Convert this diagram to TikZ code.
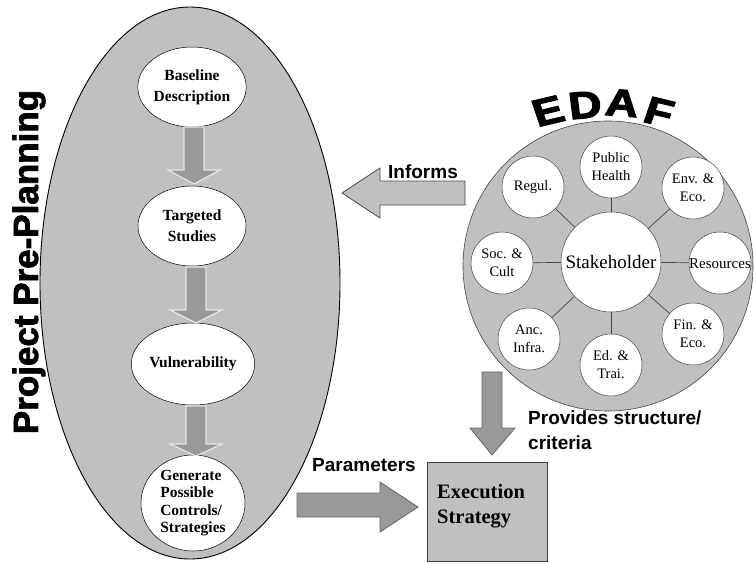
\documentclass[tikz,border=0pt]{standalone}
\usepackage{fontspec}
\setmainfont{Liberation Serif}
\newfontfamily\sansfont{Liberation Sans}
\newfontfamily\blackfont{Liberation Sans}[BoldFeatures={FakeBold=2.2}]
\newfontfamily\heavierfont{Liberation Sans}[BoldFeatures={FakeBold=3}]
\usetikzlibrary{shapes.geometric}
\definecolor{bggray}{HTML}{C0C0C0}
\definecolor{arrgray}{HTML}{999999}
\definecolor{linegray}{HTML}{444444}
\tikzset{
  bigoval/.style={draw=black, line width=0.9pt, fill=bggray, ellipse, inner sep=0pt},
  stepoval/.style={draw=black, line width=0.5pt, fill=white, ellipse, inner sep=0pt, align=center,
    font=\fontsize{15.5}{21}\selectfont\bfseries},
  smallcirc/.style={draw=linegray, line width=0.5pt, fill=white, circle, inner sep=0pt, minimum size=62pt,
    align=center, font=\fontsize{14.5}{18}\selectfont},
  flowarr/.style={fill=arrgray, draw=white!90!black, line width=1.2pt, line join=miter},
  bigarr/.style={fill=arrgray, draw=black!60, line width=0.8pt},
  lightarr/.style={fill=bggray, draw=black!70, line width=0.8pt},
  spoke/.style={draw=linegray, line width=0.7pt},
  sanslabel/.style={font=\sansfont\fontsize{19}{25}\selectfont\bfseries, inner sep=0pt},
  edafletter/.style={font=\heavierfont\fontsize{38}{38}\selectfont\bfseries, inner sep=0pt, xscale=1.2}
}
\begin{document}
\begin{tikzpicture}[x=1pt,y=-1pt]
\useasboundingbox (0,0) rectangle (754,563);
\fill[white] (0,0) rectangle (754,563);

% ---------- Project Pre-Planning ----------
\node[bigoval, minimum width=300pt, minimum height=552pt] (pp) at (190,283) {};
\node[rotate=90, inner sep=0pt, font=\blackfont\fontsize{35}{35}\selectfont\bfseries] (pptitle) at (29,262) {Project Pre-Planning};

\node[stepoval, minimum width=100pt, minimum height=80pt] (base) at (192,87) {Baseline\\Description};
\node[stepoval, minimum width=108pt, minimum height=80pt] (targ) at (192,226) {Targeted\\Studies};
\node[stepoval, minimum width=112pt, minimum height=82pt] (vuln) at (193,364) {Vulnerability};
\node[stepoval, minimum width=104pt, minimum height=96pt, font=\fontsize{15.5}{17.5}\selectfont\bfseries, align=left] (gen) at (193,503) {Generate\\Possible\\Controls/\\Strategies};

\draw[flowarr] (184,127) -- (204,127) -- (204,170) -- (220,170) -- (194,184) -- (168,170) -- (184,170) -- cycle;
\draw[flowarr] (186,267) -- (206,267) -- (206,310) -- (222,310) -- (196,323) -- (170,310) -- (186,310) -- cycle;
\draw[flowarr] (186,406) -- (206,406) -- (206,444) -- (222,444) -- (196,456) -- (170,444) -- (186,444) -- cycle;

% ---------- EDAF ----------
\node[bigoval, circle, minimum size=290pt, line width=0.6pt, draw=linegray] (edaf) at (608,266) {};
\node[edafletter, rotate=16] (le) at (548,111) {E};
\node[edafletter, rotate=6] (ld) at (585,105) {D};
\node[edafletter, rotate=-5] (la) at (622,103) {A};
\node[edafletter, rotate=-16] (lf) at (659,112) {F};

\node[circle, draw=linegray, line width=0.5pt, fill=white, minimum size=100pt, inner sep=0pt,
  font=\fontsize{19}{20}\selectfont] (st) at (611,262) {Stakeholder};

\node[smallcirc] (ph) at (611,167) {Public\\Health};
\node[smallcirc] (rg) at (533,187) {Regul.};
\node[smallcirc] (env) at (693,188) {Env. \&\\Eco.};
\node[smallcirc] (soc) at (502,263) {Soc. \&\\Cult};
\node[smallcirc] (res) at (720,263) {};
\node[font=\fontsize{15}{18}\selectfont, inner sep=0pt] (restxt) at (720,264) {Resources};
\node[smallcirc] (anc) at (529,339) {Anc.\\Infra.};
\node[smallcirc] (ed) at (611,365) {Ed. \&\\Trai.};
\node[smallcirc] (fin) at (693,334) {Fin. \&\\Eco.};

\foreach \n in {ph,rg,env,soc,res,anc,ed,fin}
  \draw[spoke] (st) -- (\n);

% ---------- Informs ----------
\draw[lightarr] (465,181) -- (380,181) -- (380,168) -- (342,193) -- (380,218) -- (380,205) -- (465,205) -- cycle;
\node[sanslabel] (inf) at (423,172) {Informs};

% ---------- Execution strategy ----------
\node[draw=black!75, line width=0.8pt, fill=bggray, minimum width=120pt, minimum height=99pt, inner sep=0pt] (exec) at (487,511.5) {};
\node[anchor=north west, align=left, inner sep=0pt, font=\fontsize{20.5}{25}\selectfont\bfseries] (exectxt) at (437,484) {Execution\\Strategy};

\draw[bigarr] (482,372) -- (502,372) -- (502,428) -- (515,428) -- (492,455) -- (470,428) -- (482,428) -- cycle;
\node[sanslabel, anchor=north west, align=left] (prov) at (528,411) {Provides structure/\\criteria};

\draw[bigarr] (297,493) -- (380,493) -- (380,482) -- (418,507) -- (380,532) -- (380,517) -- (297,517) -- cycle;
\node[sanslabel] (par) at (364,465) {Parameters};
\end{tikzpicture}
\end{document}
